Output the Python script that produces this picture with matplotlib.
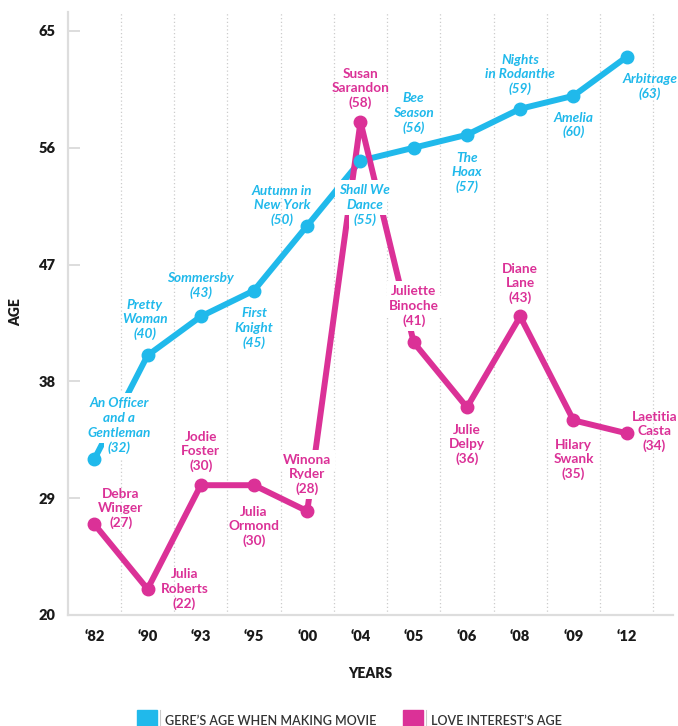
import numpy as np
import matplotlib.pyplot as plt
from matplotlib.patches import Rectangle
from matplotlib.lines import Line2D

plt.rcParams['font.family'] = ['Lato', 'DejaVu Sans']

# dados
years = ['\u201882', '\u201890', '\u201893', '\u201895', '\u201800', '\u201804',
         '\u201805', '\u201806', '\u201808', '\u201809', '\u201812']
gere_age = [32, 40, 43, 45, 50, 55, 56, 57, 59, 60, 63]
love_age = [27, 22, 30, 30, 28, 58, 41, 36, 43, 35, 34]
movies = ['An Officer\nand a\nGentleman', 'Pretty\nWoman', 'Sommersby', 'First\nKnight',
          'Autumn in\nNew York', 'Shall We\nDance', 'Bee\nSeason', 'The\nHoax',
          'Nights\nin Rodanthe', 'Amelia', 'Arbitrage']
actresses = ['Debra\nWinger', 'Julia\nRoberts', 'Jodie\nFoster', 'Julia\nOrmond',
             'Winona\nRyder', 'Susan\nSarandon', 'Juliette\nBinoche', 'Julie\nDelpy',
             'Diane\nLane', 'Hilary\nSwank', 'Laetitia\nCasta']
yticks = [20, 29, 38, 47, 56, 65]

# posicao dos rotulos (offset em pontos)
gere_off = [(18, 24.5), (-2, 26), (0, 22), (0, -27), (-18, 14.5), (3, -32),
            (0, 25), (0, -27), (0, 24.5), (0, -21), (16.5, -21.5)]
love_off = [(19, 11.5), (26.5, 0), (0, 24), (0, -29.5), (0, 26.5), (0, 24),
            (0, 26.5), (0, -26.5), (0, 24), (0, -28), (20, 1.5)]
# rotulos que cortam a linha (fundo branco)
gere_boxed = [0, 5]
love_boxed = [4, 6]

BLUE = '#20B9EB'
PINK = '#DB3197'
GRID = '#dddddd'
LINE_PT = 10.6  # espaco entre linhas dos rotulos


def put_label(ax, xi, v, text, off, boxed, **kw):
    """Escreve o rotulo; se boxed, cada linha ganha um fundo branco."""
    if not boxed:
        ax.annotate(text, (xi, v), xytext=off, textcoords='offset points',
                    ha='center', va='center', linespacing=1.22, zorder=4,
                    annotation_clip=False, **kw)
        return
    lines = text.split('\n')
    n = len(lines)
    for k, ln in enumerate(lines):
        dy = off[1] + ((n - 1) / 2 - k) * LINE_PT
        ax.annotate(ln, (xi, v), xytext=(off[0], dy), textcoords='offset points',
                    ha='center', va='center', zorder=4, annotation_clip=False,
                    bbox=dict(boxstyle='square,pad=0.3', fc='white', ec='none'),
                    **kw)


fig = plt.figure(figsize=(6.78, 7.26), dpi=100)
ax = fig.add_axes([0.1003, 0.1529, 0.8923, 0.8306])

x = np.arange(len(years))

for xi in x:
    ax.axvline(xi + 0.5, color='#cccccc', lw=0.9, ls=(0, (1, 2)), zorder=1)

ax.plot(x, gere_age, color=BLUE, lw=4.3, zorder=2, solid_capstyle='round')
ax.plot(x, love_age, color=PINK, lw=4.3, zorder=2, solid_capstyle='round')
ax.plot(x, gere_age, 'o', color=BLUE, ms=9, zorder=5)
ax.plot(x, love_age, 'o', color=PINK, ms=9, zorder=5)

for i, (xi, v, name, off) in enumerate(zip(x, gere_age, movies, gere_off)):
    put_label(ax, xi, v, f'{name}\n({v})', off, i in gere_boxed,
              fontsize=9.8, fontweight='bold', fontstyle='italic', color=BLUE)
for i, (xi, v, name, off) in enumerate(zip(x, love_age, actresses, love_off)):
    put_label(ax, xi, v, f'{name}\n({v})', off, i in love_boxed,
              fontsize=9.8, fontweight='bold', color=PINK)

ax.set_xlim(-0.494, 10.87)
ax.set_ylim(20, 66.46)
ax.set_xticks(x)
ax.set_xticklabels(years, fontsize=10.5, fontweight='heavy', color='#1a1a1a')
ax.set_yticks(yticks)
ax.set_yticklabels([str(t) for t in yticks], fontsize=10.5, fontweight='heavy',
                   color='#1a1a1a')
ax.tick_params(axis='y', direction='in', length=8.6, width=1.4, color=GRID, pad=9)
ax.tick_params(axis='x', length=0, pad=11)

for s in ['top', 'right']:
    ax.spines[s].set_visible(False)
for s in ['left', 'bottom']:
    ax.spines[s].set_color(GRID)
    ax.spines[s].set_linewidth(1.6)

fig.text(16 / 678, 1 - 312 / 726, 'AGE', rotation=90, ha='center', va='center',
         fontsize=10, fontweight='heavy', color='#1a1a1a')
fig.text(370 / 678, 1 - 673 / 726, 'YEARS', ha='center', va='center',
         fontsize=10, fontweight='heavy', color='#1a1a1a')

# legenda
for x0, col, label in [(137, BLUE, "GERE\u2019S AGE WHEN MAKING MOVIE"),
                       (403, PINK, "LOVE INTEREST\u2019S AGE")]:
    fig.add_artist(Rectangle((x0 / 678, 1 - 730 / 726), 20 / 678, 20 / 726,
                             transform=fig.transFigure, color=col))
    fig.add_artist(Line2D([(x0 + 23) / 678] * 2, [1 - 728 / 726, 1 - 710 / 726],
                          transform=fig.transFigure, color='#cccccc', lw=0.8))
    fig.text((x0 + 28) / 678, 1 - 721 / 726, label, ha='left', va='center',
             fontsize=9, fontweight='semibold', color='#333333')

fig.savefig('out.png', dpi=100)
